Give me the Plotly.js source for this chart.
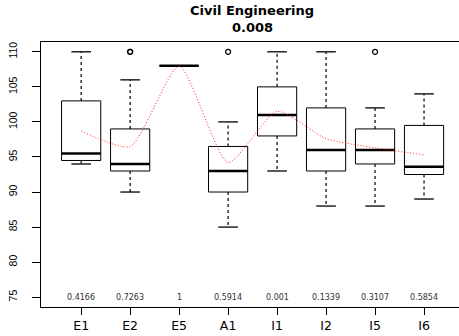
<!DOCTYPE html>
<html>
<head>
<meta charset="utf-8">
<script src="https://cdn.plot.ly/plotly-3.0.1.min.js"></script>
<style>
  html, body { margin: 0; padding: 0; background: #fff; }
  #chart { width: 459px; height: 336px; }
</style>
</head>
<body>
<div id="chart"></div>
<script>
// Course categories and five-number summaries per group
const categories = ["E1", "E2", "E5", "A1", "I1", "I2", "I5", "I6"];
const lowerWhisker = [94, 90, 108, 85, 93, 88, 88, 89];
const q1Values     = [94.5, 93, 108, 90, 98, 93, 94, 92.5];
const medians      = [95.5, 94, 108, 93, 101, 96, 96, 93.6];
const q3Values     = [103, 99, 108, 96.5, 105, 102, 99, 99.5];
const upperWhisker = [110, 106, 108, 100, 110, 110, 102, 104];
const means        = [98.7, 96.5, 108, 94.2, 101.5, 97.6, 96.3, 95.3];
const outlierGroup = ["E2", "E2", "A1", "I5"];
const outlierValue = [110, 110, 110, 110];
const pValues      = ["0.4166", "0.7263", "1", "0.5914", "0.001", "0.1339", "0.3107", "0.5854"];
const pLabelLevel  = 75;
const titleLines   = ["Civil Engineering", "0.008"];

const halfBox = 0.4;
const halfCap = 0.2;
const pos = categories.map((c, i) => i + 1);

const traces = [];

// Boxes (outline), built as closed polylines in data space
const bx = [], by = [];
pos.forEach((x, i) => {
  bx.push(x - halfBox, x + halfBox, x + halfBox, x - halfBox, x - halfBox, null);
  by.push(q1Values[i], q1Values[i], q3Values[i], q3Values[i], q1Values[i], null);
});
traces.push({ x: bx, y: by, mode: "lines", line: { color: "#000", width: 1 }, hoverinfo: "skip" });

// Dashed whiskers
const wx = [], wy = [];
pos.forEach((x, i) => {
  wx.push(x, x, null, x, x, null);
  wy.push(q3Values[i], upperWhisker[i], null, q1Values[i], lowerWhisker[i], null);
});
traces.push({ x: wx, y: wy, mode: "lines", line: { color: "#000", width: 1.2, dash: "3px,3px" }, hoverinfo: "skip" });

// Whisker caps
const cx = [], cy = [];
pos.forEach((x, i) => {
  cx.push(x - halfCap, x + halfCap, null, x - halfCap, x + halfCap, null);
  cy.push(upperWhisker[i], upperWhisker[i], null, lowerWhisker[i], lowerWhisker[i], null);
});
traces.push({ x: cx, y: cy, mode: "lines", line: { color: "#000", width: 1.3 }, hoverinfo: "skip" });

// Thick median bars
const mx = [], my = [];
pos.forEach((x, i) => {
  mx.push(x - halfBox, x + halfBox, null);
  my.push(medians[i], medians[i], null);
});
traces.push({ x: mx, y: my, mode: "lines", line: { color: "#000", width: 2.5 }, hoverinfo: "skip" });

// Outliers
traces.push({
  x: outlierGroup.map(g => categories.indexOf(g) + 1),
  y: outlierValue,
  mode: "markers",
  marker: { symbol: "circle-open", size: 5, color: "#000", line: { width: 1.2 } },
  hoverinfo: "skip"
});

// Group means joined by a smooth dotted curve
traces.push({
  x: pos, y: means, mode: "lines",
  line: { color: "#ff2020", width: 1, dash: "1px,2px", shape: "spline", smoothing: 0.6 },
  hoverinfo: "skip"
});

// p-value labels along the bottom
const annotations = pos.map((x, i) => ({
  x: x, y: pLabelLevel, xref: "x", yref: "y",
  text: pValues[i], showarrow: false,
  font: { family: "DejaVu Sans, sans-serif", size: 8, color: "#333" }
}));

// Two-line bold title
const titleCenter = (252.5 - 41) / 418;
[32, 15].forEach((shift, k) => {
  annotations.push({
    xref: "paper", yref: "paper", x: titleCenter, y: 1, yshift: shift,
    text: "<b>" + titleLines[k] + "</b>",
    showarrow: false, yanchor: "middle",
    font: { family: "DejaVu Sans, sans-serif", size: 13, color: "#000" }
  });
});

const layout = {
  width: 459, height: 336,
  margin: { l: 41, r: 0, t: 42, b: 29, pad: 0 },
  paper_bgcolor: "#fff", plot_bgcolor: "#fff",
  showlegend: false,
  font: { family: "Liberation Sans, Arial, sans-serif", color: "#000" },
  xaxis: {
    range: [0.18, 8.714],
    tickmode: "array", tickvals: pos, ticktext: categories,
    ticks: "outside", ticklen: 7, tickwidth: 1, tickcolor: "#000",
    showline: true, linecolor: "#000", linewidth: 1, mirror: true,
    showgrid: false, zeroline: false,
    tickfont: { family: "DejaVu Sans, sans-serif", size: 12.5, color: "#000" }
  },
  yaxis: {
    range: [73.6, 111.4],
    tickmode: "array", tickvals: [75, 80, 85, 90, 95, 100, 105, 110],
    ticks: "outside", ticklen: 8, tickwidth: 1, tickcolor: "#000",
    tickangle: -90, ticklabelstandoff: 11,
    showline: true, linecolor: "#000", linewidth: 1.3,
    showgrid: false, zeroline: false,
    tickfont: { size: 10.5, color: "#000" }
  },
  annotations: annotations
};

Plotly.newPlot("chart", traces, layout, { staticPlot: true, displayModeBar: false });
</script>
</body>
</html>
